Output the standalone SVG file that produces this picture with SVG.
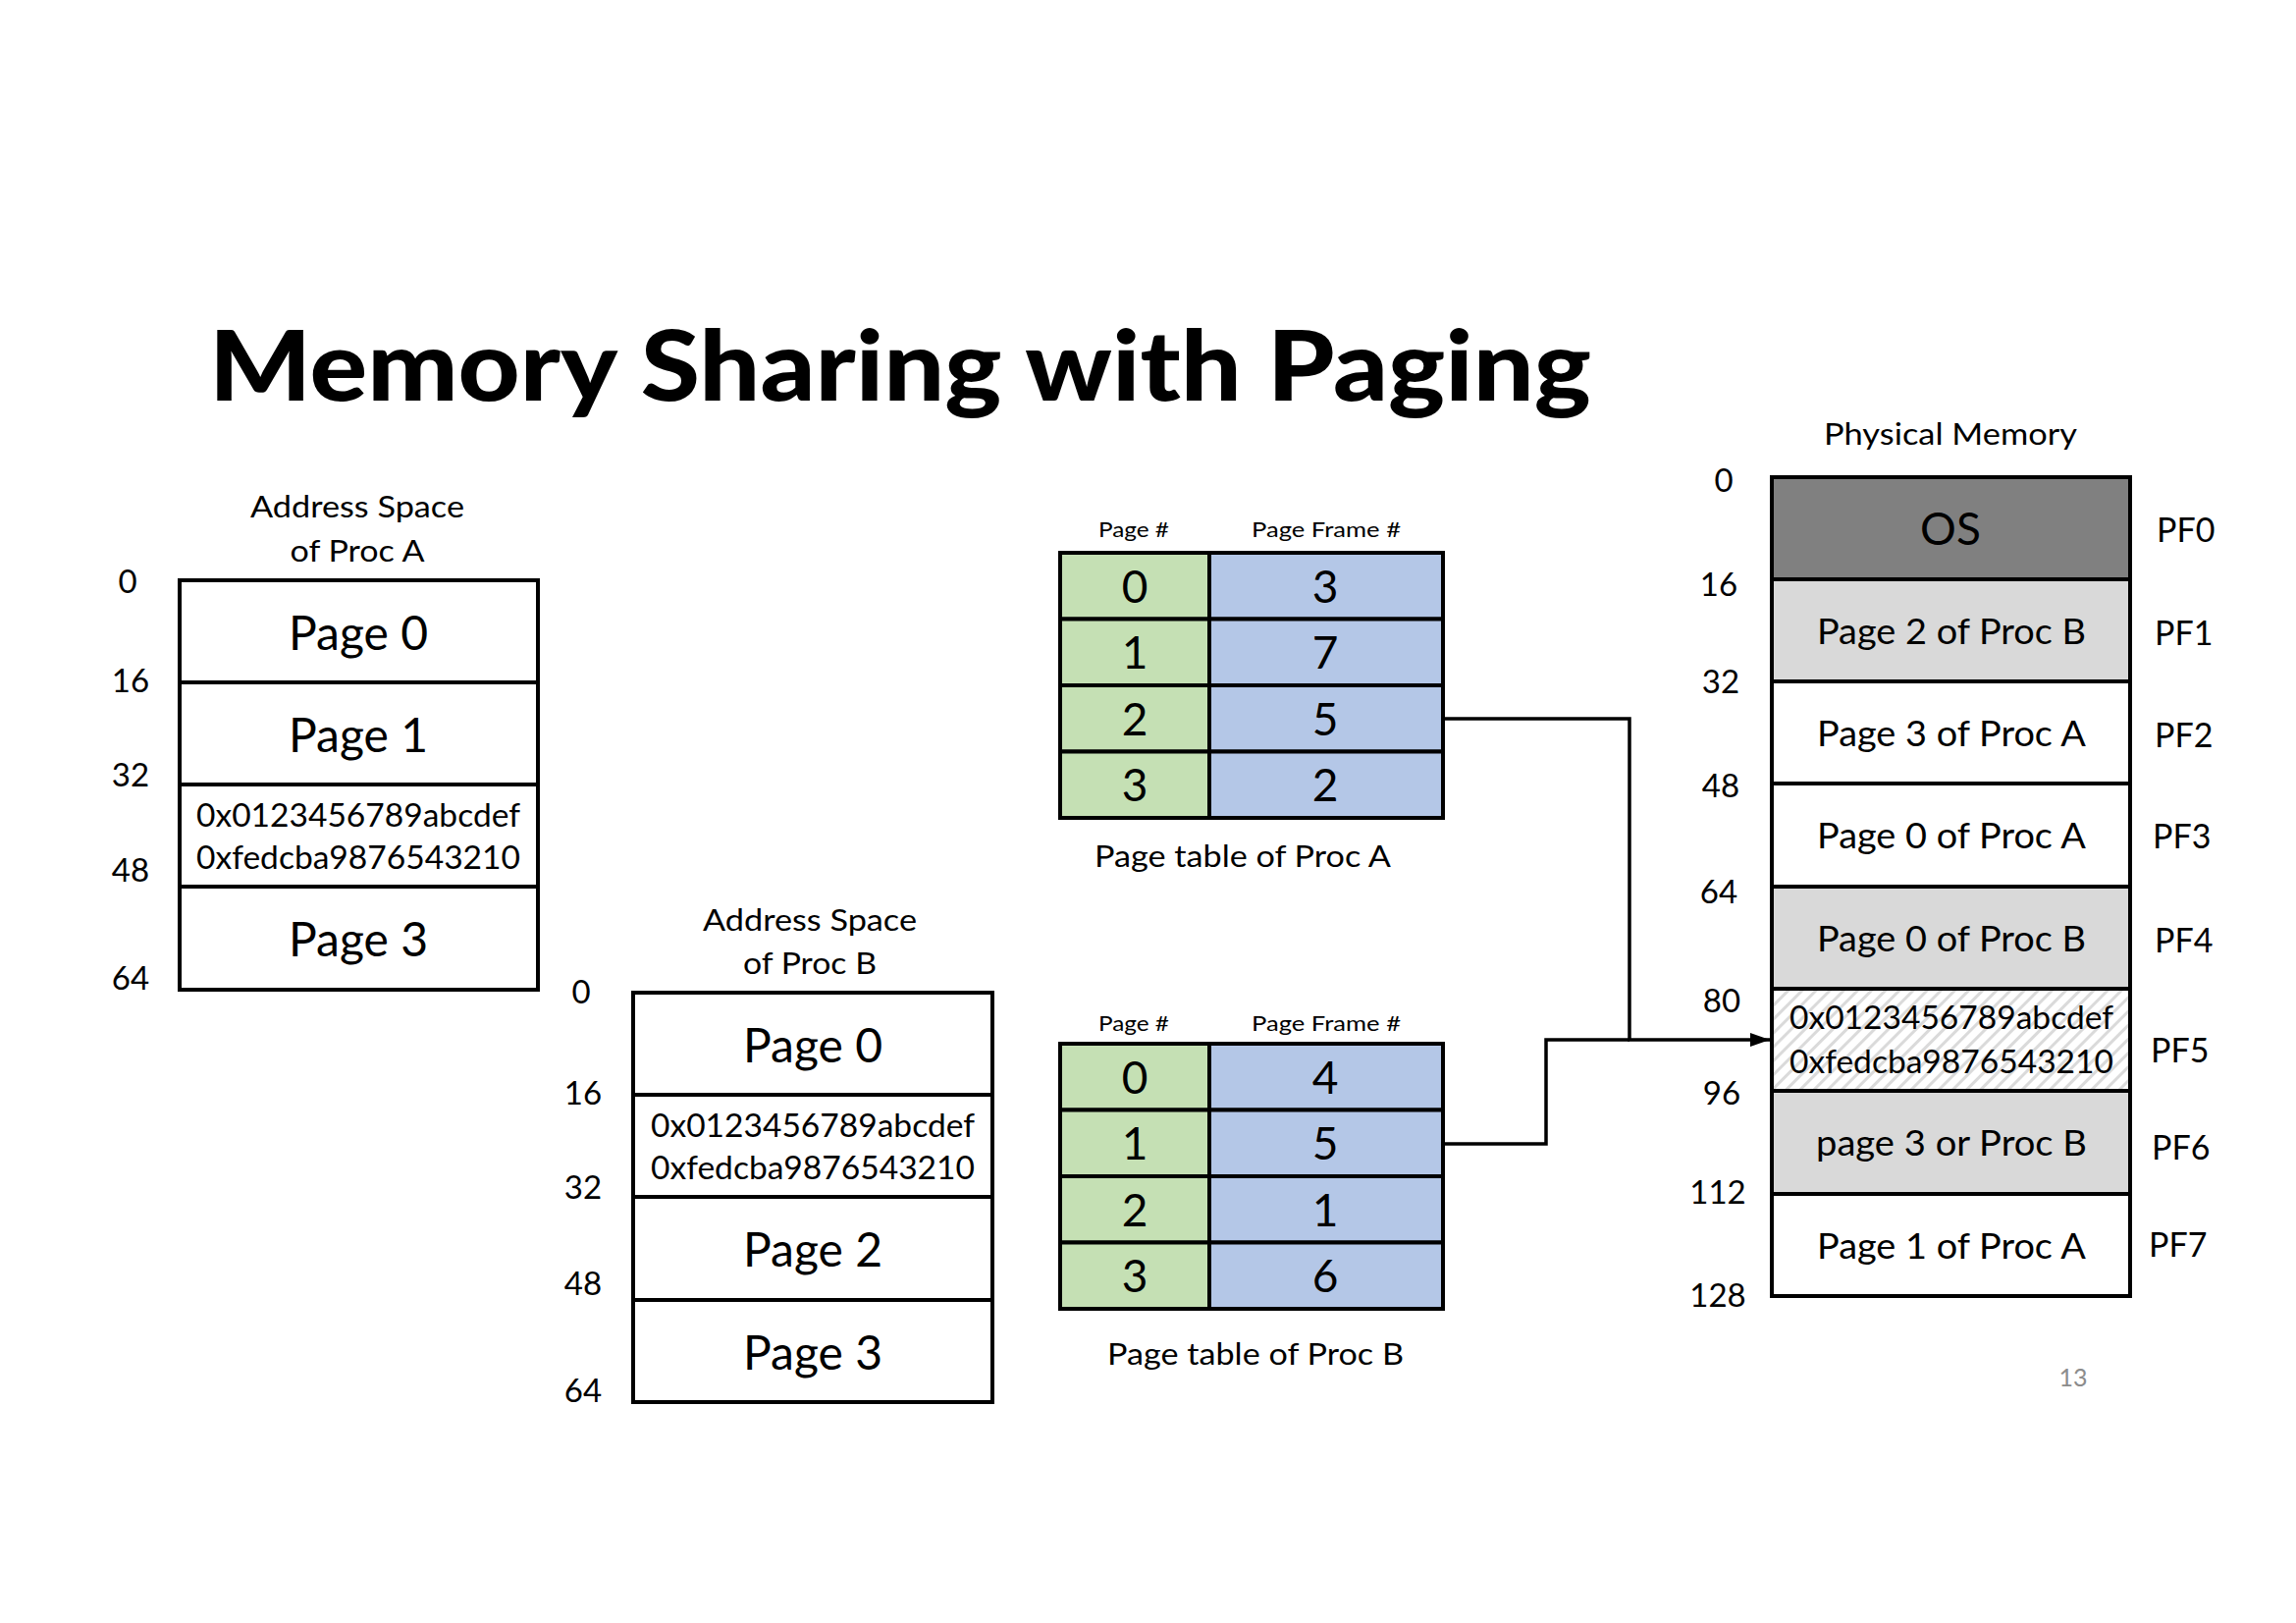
<svg xmlns="http://www.w3.org/2000/svg" width="2339" height="1653" viewBox="0 0 2339 1653">
<style>
text { font-family: Lato, "Open Sans", "Liberation Sans", sans-serif; fill: #000; }
.title { font-family: "Comic Sans MS", Lato, "Liberation Sans", sans-serif; font-weight: 900; font-size: 100px; }
.box { stroke: #000; stroke-width: 4; }
.w { fill: #fff; }
.g { fill: #c5e0b4; }
.b { fill: #b4c7e7; }
.lg { fill: #d9d9d9; }
.dg { fill: #808080; }
.h { fill: url(#hatch); }
.axis { font-size: 33px; text-anchor: middle; }
.head { font-size: 30px; text-anchor: middle; }
.pg { font-size: 48px; text-anchor: middle; }
.hex { font-size: 32px; text-anchor: middle; }
.th { font-size: 22px; text-anchor: middle; }
.num { font-size: 46px; text-anchor: middle; }
.mem { font-size: 36px; text-anchor: middle; }
.pf { font-size: 34px; }
.conn { fill: none; stroke: #000; stroke-width: 3.5; }
</style>
<defs>
<pattern id="hatch" patternUnits="userSpaceOnUse" width="10" height="10" patternTransform="rotate(45)">
<rect width="10" height="10" fill="#fff"/>
<rect x="0" y="0" width="3" height="10" fill="#dadada"/>
</pattern>
<marker id="arrow" markerUnits="userSpaceOnUse" markerWidth="20" markerHeight="14" refX="20" refY="7" orient="auto">
<path d="M0,0 L20,7 L0,14 z" fill="#000"/>
</marker>
</defs>
<rect width="2339" height="1653" fill="#fff"/>

<text class="title" x="213" y="408" textLength="1408" lengthAdjust="spacingAndGlyphs">Memory Sharing with Paging</text>

<g id="addr-space-a">
<text class="head" x="364" y="527" textLength="218" lengthAdjust="spacingAndGlyphs">Address Space</text>
<text class="head" x="364" y="572" textLength="137" lengthAdjust="spacingAndGlyphs">of Proc A</text>
<rect class="box w" x="183" y="591" width="365" height="104"/>
<rect class="box w" x="183" y="695" width="365" height="104"/>
<rect class="box w" x="183" y="799" width="365" height="104"/>
<rect class="box w" x="183" y="903" width="365" height="105"/>
<text class="pg" x="365" y="662">Page 0</text>
<text class="pg" x="365" y="766">Page 1</text>
<text class="hex" x="365" y="842" textLength="330" lengthAdjust="spacingAndGlyphs">0x0123456789abcdef</text>
<text class="hex" x="365" y="885" textLength="330" lengthAdjust="spacingAndGlyphs">0xfedcba9876543210</text>
<text class="pg" x="365" y="974">Page 3</text>
<text class="axis" x="130" y="604">0</text>
<text class="axis" x="133" y="705">16</text>
<text class="axis" x="133" y="801">32</text>
<text class="axis" x="133" y="898">48</text>
<text class="axis" x="133" y="1008">64</text>
</g>

<g id="addr-space-b">
<text class="head" x="825" y="948" textLength="218" lengthAdjust="spacingAndGlyphs">Address Space</text>
<text class="head" x="825" y="992" textLength="136" lengthAdjust="spacingAndGlyphs">of Proc B</text>
<rect class="box w" x="645" y="1011" width="366" height="104"/>
<rect class="box w" x="645" y="1115" width="366" height="104"/>
<rect class="box w" x="645" y="1219" width="366" height="105"/>
<rect class="box w" x="645" y="1324" width="366" height="104"/>
<text class="pg" x="828" y="1082">Page 0</text>
<text class="hex" x="828" y="1158" textLength="330" lengthAdjust="spacingAndGlyphs">0x0123456789abcdef</text>
<text class="hex" x="828" y="1201" textLength="330" lengthAdjust="spacingAndGlyphs">0xfedcba9876543210</text>
<text class="pg" x="828" y="1290">Page 2</text>
<text class="pg" x="828" y="1395">Page 3</text>
<text class="axis" x="592" y="1022">0</text>
<text class="axis" x="594" y="1125">16</text>
<text class="axis" x="594" y="1221">32</text>
<text class="axis" x="594" y="1319">48</text>
<text class="axis" x="594" y="1428">64</text>
</g>

<g id="page-table-a">
<text class="th" x="1155" y="547" textLength="72" lengthAdjust="spacingAndGlyphs">Page #</text>
<text class="th" x="1351" y="547" textLength="152" lengthAdjust="spacingAndGlyphs">Page Frame #</text>
<rect class="box g" x="1080" y="563" width="152" height="67.5"/>
<rect class="box g" x="1080" y="630.5" width="152" height="67.5"/>
<rect class="box g" x="1080" y="698" width="152" height="67.5"/>
<rect class="box g" x="1080" y="765.5" width="152" height="67.5"/>
<rect class="box b" x="1232" y="563" width="238" height="67.5"/>
<rect class="box b" x="1232" y="630.5" width="238" height="67.5"/>
<rect class="box b" x="1232" y="698" width="238" height="67.5"/>
<rect class="box b" x="1232" y="765.5" width="238" height="67.5"/>
<text class="num" x="1156" y="614">0</text>
<text class="num" x="1156" y="681">1</text>
<text class="num" x="1156" y="749">2</text>
<text class="num" x="1156" y="816">3</text>
<text class="num" x="1350" y="614">3</text>
<text class="num" x="1350" y="681">7</text>
<text class="num" x="1350" y="749">5</text>
<text class="num" x="1350" y="816">2</text>
<text class="head" x="1266" y="883" textLength="302" lengthAdjust="spacingAndGlyphs">Page table of Proc A</text>
</g>

<g id="page-table-b">
<text class="th" x="1155" y="1050" textLength="72" lengthAdjust="spacingAndGlyphs">Page #</text>
<text class="th" x="1351" y="1050" textLength="152" lengthAdjust="spacingAndGlyphs">Page Frame #</text>
<rect class="box g" x="1080" y="1063" width="152" height="67.5"/>
<rect class="box g" x="1080" y="1130.5" width="152" height="67.5"/>
<rect class="box g" x="1080" y="1198" width="152" height="67.5"/>
<rect class="box g" x="1080" y="1265.5" width="152" height="67.5"/>
<rect class="box b" x="1232" y="1063" width="238" height="67.5"/>
<rect class="box b" x="1232" y="1130.5" width="238" height="67.5"/>
<rect class="box b" x="1232" y="1198" width="238" height="67.5"/>
<rect class="box b" x="1232" y="1265.5" width="238" height="67.5"/>
<text class="num" x="1156" y="1114">0</text>
<text class="num" x="1156" y="1181">1</text>
<text class="num" x="1156" y="1249">2</text>
<text class="num" x="1156" y="1316">3</text>
<text class="num" x="1350" y="1114">4</text>
<text class="num" x="1350" y="1181">5</text>
<text class="num" x="1350" y="1249">1</text>
<text class="num" x="1350" y="1316">6</text>
<text class="head" x="1279" y="1390" textLength="302" lengthAdjust="spacingAndGlyphs">Page table of Proc B</text>
</g>

<g id="physical-memory">
<text class="head" x="1987" y="453" textLength="258" lengthAdjust="spacingAndGlyphs">Physical Memory</text>
<rect class="box dg" x="1805" y="486" width="365" height="104"/>
<rect class="box lg" x="1805" y="590" width="365" height="104"/>
<rect class="box w" x="1805" y="694" width="365" height="104"/>
<rect class="box w" x="1805" y="798" width="365" height="105"/>
<rect class="box lg" x="1805" y="903" width="365" height="104"/>
<rect class="box h" x="1805" y="1007" width="365" height="104"/>
<rect class="box lg" x="1805" y="1111" width="365" height="105"/>
<rect class="box w" x="1805" y="1216" width="365" height="104"/>
<text x="1987" y="555" style="font-size:46px;text-anchor:middle">OS</text>
<text class="mem" x="1988" y="656" textLength="274" lengthAdjust="spacingAndGlyphs">Page 2 of Proc B</text>
<text class="mem" x="1988" y="760" textLength="274" lengthAdjust="spacingAndGlyphs">Page 3 of Proc A</text>
<text class="mem" x="1988" y="864" textLength="274" lengthAdjust="spacingAndGlyphs">Page 0 of Proc A</text>
<text class="mem" x="1988" y="969" textLength="274" lengthAdjust="spacingAndGlyphs">Page 0 of Proc B</text>
<text class="hex" x="1988" y="1048" textLength="330" lengthAdjust="spacingAndGlyphs">0x0123456789abcdef</text>
<text class="hex" x="1988" y="1093" textLength="330" lengthAdjust="spacingAndGlyphs">0xfedcba9876543210</text>
<text class="mem" x="1988" y="1177" textLength="276" lengthAdjust="spacingAndGlyphs">page 3 or Proc B</text>
<text class="mem" x="1988" y="1282" textLength="274" lengthAdjust="spacingAndGlyphs">Page 1 of Proc A</text>
<text class="axis" x="1756" y="501">0</text>
<text class="axis" x="1751" y="607">16</text>
<text class="axis" x="1753" y="706">32</text>
<text class="axis" x="1753" y="812">48</text>
<text class="axis" x="1751" y="920">64</text>
<text class="axis" x="1754" y="1031">80</text>
<text class="axis" x="1754" y="1125">96</text>
<text class="axis" x="1750" y="1226">112</text>
<text class="axis" x="1750" y="1331">128</text>
<text class="pf" x="2197" y="552">PF0</text>
<text class="pf" x="2195" y="657">PF1</text>
<text class="pf" x="2195" y="761">PF2</text>
<text class="pf" x="2193" y="864">PF3</text>
<text class="pf" x="2195" y="970">PF4</text>
<text class="pf" x="2191" y="1082">PF5</text>
<text class="pf" x="2192" y="1181">PF6</text>
<text class="pf" x="2189" y="1280">PF7</text>
</g>

<g id="connectors">
<path class="conn" d="M1472 732 H1660 V1059 H1803" marker-end="url(#arrow)"/>
<path class="conn" d="M1472 1165 H1575 V1059 H1660"/>
</g>

<text x="2112" y="1412" style="font-size:25px;fill:#8c8c8c;text-anchor:middle">13</text>
</svg>
